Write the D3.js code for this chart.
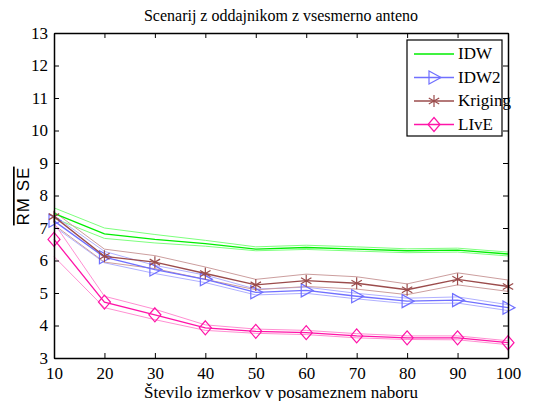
<!DOCTYPE html>
<html>
<head>
    <meta charset="utf-8">
    <script src="https://d3js.org/d3.v7.min.js"></script>
</head>
<body style="margin:0">
    <svg width="539" height="401" id="svg1"></svg>
    <script>
        // data
        var xs = [10, 20, 30, 40, 50, 60, 70, 80, 90, 100];
        var idw    = [7.45, 6.82, 6.65, 6.52, 6.35, 6.40, 6.35, 6.30, 6.32, 6.20];
        var idwUp  = [7.62, 7.00, 6.80, 6.62, 6.42, 6.47, 6.42, 6.36, 6.38, 6.26];
        var idwLo  = [7.30, 6.68, 6.54, 6.44, 6.30, 6.34, 6.29, 6.24, 6.26, 6.14];
        var idw2   = [7.22, 6.10, 5.72, 5.42, 5.02, 5.08, 4.90, 4.75, 4.78, 4.55];
        var idw2Up = [7.38, 6.28, 5.85, 5.55, 5.12, 5.18, 4.99, 4.84, 4.88, 4.64];
        var idw2Lo = [7.05, 5.93, 5.60, 5.32, 4.94, 4.99, 4.82, 4.67, 4.69, 4.46];
        var krig   = [7.35, 6.13, 5.95, 5.60, 5.25, 5.38, 5.30, 5.10, 5.42, 5.20];
        var krigUp = [7.50, 6.35, 6.15, 5.80, 5.42, 5.58, 5.50, 5.28, 5.62, 5.40];
        var krigLo = [7.10, 5.95, 5.75, 5.42, 5.10, 5.20, 5.12, 4.95, 5.25, 5.05];
        var live   = [6.65, 4.72, 4.33, 3.93, 3.82, 3.78, 3.68, 3.62, 3.62, 3.47];
        var liveUp = [7.15, 4.90, 4.50, 4.02, 3.89, 3.85, 3.75, 3.68, 3.68, 3.53];
        var liveLo = [6.12, 4.55, 4.18, 3.85, 3.76, 3.72, 3.62, 3.57, 3.56, 3.41];
        var yTicks = [3, 4, 5, 6, 7, 8, 9, 10, 11, 12, 13];
        var names = ["IDW", "IDW2", "Kriging", "LIvE"];

        var svg = d3.select("#svg1");
        var left = 54, right = 508, top0 = 33, bottom = 358;

        var x = d3.scaleLinear().domain([10, 100]).range([left, right]);
        var y = d3.scaleLinear().domain([3, 13]).range([bottom, top0]);

        var series = [
            { name: names[0], main: idw, up: idwUp, lo: idwLo, col: "#00ee00", band: "#7dff7d", mark: null },
            { name: names[1], main: idw2, up: idw2Up, lo: idw2Lo, col: "#7070ff", band: "#b0b0ff", mark: "tri" },
            { name: names[2], main: krig, up: krigUp, lo: krigLo, col: "#9b4c4c", band: "#cc9e9e", mark: "star" },
            { name: names[3], main: live, up: liveUp, lo: liveLo, col: "#ff14a8", band: "#ff8fd2", mark: "dia" }
        ];

        function markPath(type) {
            if (type === "tri") return "M-5,-6.5L7,0L-5,6.5Z";
            if (type === "dia") return "M0,-7L6,0L0,7L-6,0Z";
            if (type === "star") return "M0,-6L0,6M-5.2,-3L5.2,3M-5.2,3L5.2,-3";
            return "";
        }

        var line = d3.line()
            .x(function (d, i) { return x(xs[i]); })
            .y(function (d) { return y(d); });

        var plot = svg.append("g");
        series.forEach(function (s) {
            [s.up, s.lo].forEach(function (b) {
                plot.append("path")
                    .attr("d", line(b))
                    .attr("fill", "none")
                    .attr("stroke", s.band)
                    .attr("stroke-width", 1);
            });
        });
        series.forEach(function (s) {
            plot.append("path")
                .attr("d", line(s.main))
                .attr("fill", "none")
                .attr("stroke", s.col)
                .attr("stroke-width", 1.3);
            if (s.mark) {
                plot.selectAll(null)
                    .data(s.main)
                    .enter().append("path")
                    .attr("transform", function (d, i) { return "translate(" + x(xs[i]) + "," + y(d) + ")"; })
                    .attr("d", markPath(s.mark))
                    .attr("fill", "none")
                    .attr("stroke", s.col)
                    .attr("stroke-width", 1.2);
            }
        });

        // axes with inward ticks on all sides
        var bot = svg.append("g")
            .attr("transform", "translate(0," + bottom + ")")
            .call(d3.axisBottom(x).tickValues(xs).tickSizeInner(-5).tickSizeOuter(0).tickPadding(9));
        var topAx = svg.append("g")
            .attr("transform", "translate(0," + top0 + ")")
            .call(d3.axisTop(x).tickValues(xs).tickSizeInner(-5).tickSizeOuter(0).tickFormat(""));
        var lft = svg.append("g")
            .attr("transform", "translate(" + left + ",0)")
            .call(d3.axisLeft(y).tickValues(yTicks).tickSizeInner(-5).tickSizeOuter(0).tickPadding(6));
        var rgt = svg.append("g")
            .attr("transform", "translate(" + right + ",0)")
            .call(d3.axisRight(y).tickValues(yTicks).tickSizeInner(-5).tickSizeOuter(0).tickFormat(""));
        [bot, topAx, lft, rgt].forEach(function (a) {
            a.attr("font-family", "Liberation Serif").attr("font-size", 17);
            a.select(".domain").attr("stroke", "#000").attr("stroke-width", 1.5);
            a.selectAll("line").attr("stroke", "#000");
            a.selectAll("text")
                .style("font-family", "Liberation Serif")
                .style("font-size", "17px")
                .attr("fill", "#000");
        });

        svg.append("text")
            .attr("x", (left + right) / 2)
            .attr("y", 21)
            .attr("text-anchor", "middle")
            .style("font-family", "Liberation Serif")
            .style("font-size", "16px")
            .text("Scenarij z oddajnikom z vsesmerno anteno");

        svg.append("text")
            .attr("x", (left + right) / 2)
            .attr("y", 398)
            .attr("text-anchor", "middle")
            .style("font-family", "Liberation Serif")
            .style("font-size", "17px")
            .text("Število izmerkov v posameznem naboru");

        svg.append("text")
            .attr("transform", "translate(29,196) rotate(-90)")
            .attr("text-anchor", "middle")
            .style("font-family", "Liberation Sans")
            .style("font-size", "17px")
            .style("letter-spacing", "1px")
            .style("text-decoration", "overline")
            .text("RM SE");

        // legend
        var lg = svg.append("g");
        lg.append("rect")
            .attr("x", 407).attr("y", 40)
            .attr("width", 95).attr("height", 96)
            .attr("fill", "#fff")
            .attr("stroke", "#000")
            .attr("stroke-width", 1.2);
        series.forEach(function (s, i) {
            var ly = 54 + i * 23.5;
            lg.append("line")
                .attr("x1", 414).attr("x2", 454)
                .attr("y1", ly).attr("y2", ly)
                .attr("stroke", s.col)
                .attr("stroke-width", 1.3);
            if (s.mark) {
                lg.append("path")
                    .attr("transform", "translate(434," + ly + ")")
                    .attr("d", markPath(s.mark))
                    .attr("fill", "none")
                    .attr("stroke", s.col)
                    .attr("stroke-width", 1.2);
            }
            lg.append("text")
                .attr("x", 458).attr("y", ly + 5)
                .style("font-family", "Liberation Serif")
                .style("font-size", "17px")
                .text(s.name);
        });
    </script>
</body>
</html>
